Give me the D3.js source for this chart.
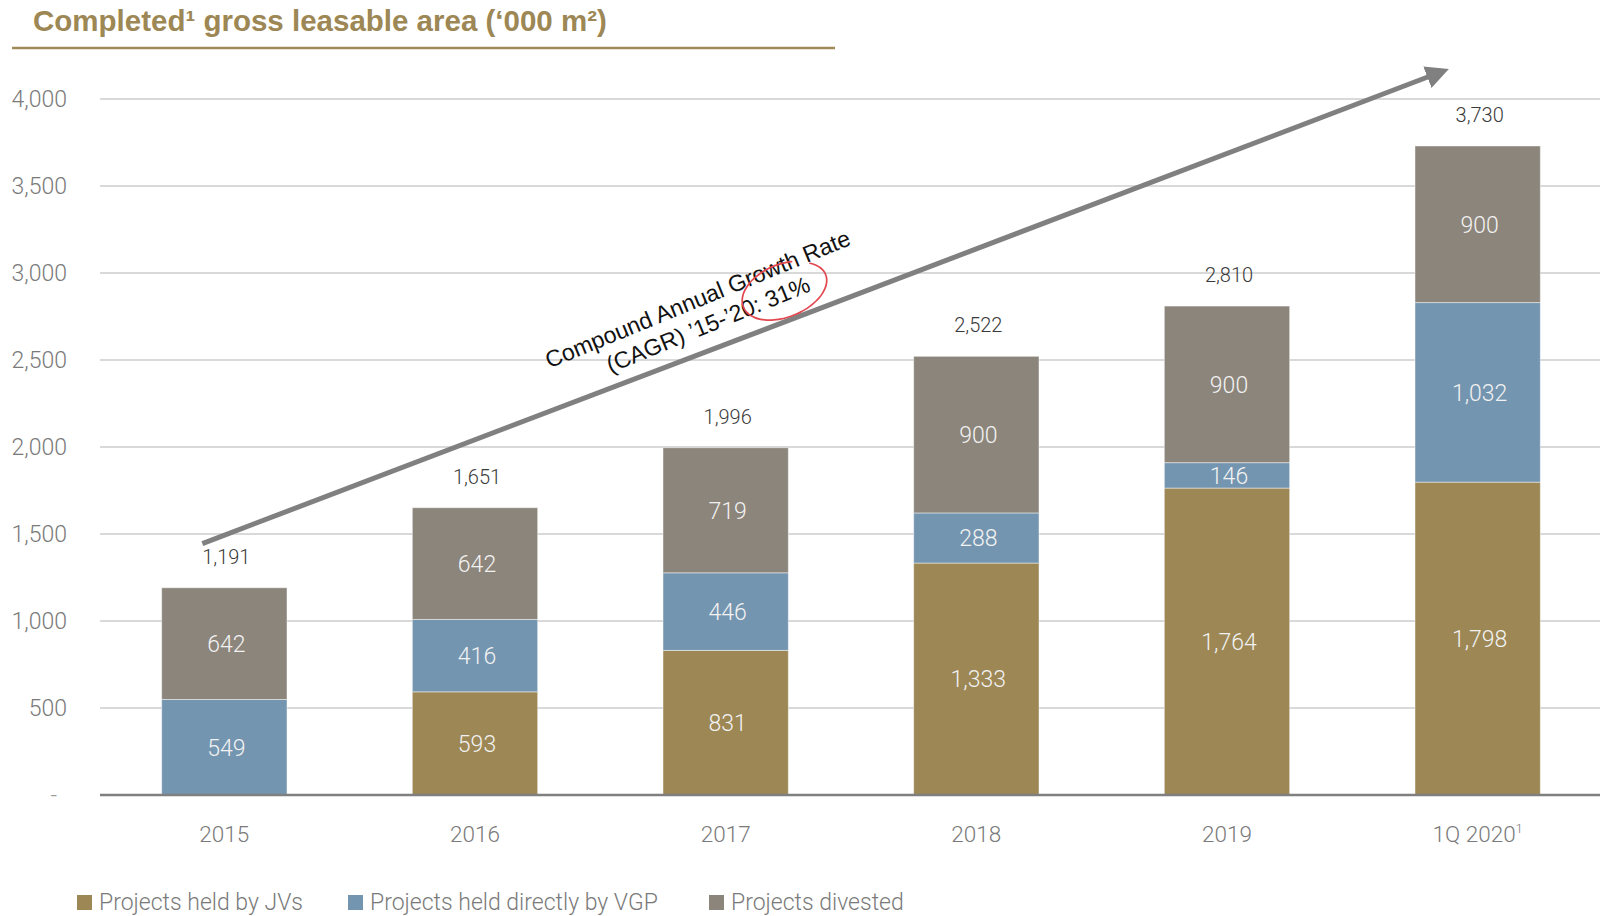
<!DOCTYPE html>
<html>
<head>
<meta charset="utf-8">
<script src="https://cdn.jsdelivr.net/npm/d3@7"></script>
<style>
  html, body { margin: 0; padding: 0; background: #fff; }
  svg { display: block; }
</style>
</head>
<body>
<svg id="chart" width="1600" height="916"></svg>
<script>
// Completed gross leasable area ('000 m²) by year and holding type
const years = ["2015", "2016", "2017", "2018", "2019", "1Q 2020"];
const heldByJVs = [0, 593, 831, 1333, 1764, 1798];
const heldDirectly = [549, 416, 446, 288, 146, 1032];
const divested = [642, 642, 719, 900, 900, 900];
const totals = [1191, 1651, 1996, 2522, 2810, 3730];
const seriesNames = ["Projects held by JVs", "Projects held directly by VGP", "Projects divested"];
const seriesColors = ["#9c8755", "#7495b0", "#8c857b"];
const yTicks = [0, 500, 1000, 1500, 2000, 2500, 3000, 3500, 4000];
const cagrLines = ["Compound Annual Growth Rate", "(CAGR) \u201915-\u201920: 31%"];

const svg = d3.select("#chart");
const fontLight = '"Helvetica Neue", Roboto, "Liberation Sans", sans-serif';

const x = d3.scaleBand().domain(years).range([99, 1603]).paddingInner(0.5).paddingOuter(0.25);
const y = d3.scaleLinear().domain([0, 4000]).range([795, 99]);

// Title and rule underneath
svg.append("text")
  .attr("x", 33).attr("y", 31)
  .attr("font-family", '"Liberation Sans", Arial, sans-serif')
  .attr("font-weight", "bold")
  .attr("font-size", 29.5)
  .attr("fill", "#9c8755")
  .text("Completed\u00b9 gross leasable area (\u2018000 m\u00b2)");
svg.append("line")
  .attr("x1", 12).attr("x2", 835).attr("y1", 48).attr("y2", 48)
  .attr("stroke", "#a08a57").attr("stroke-width", 2.5);

// Horizontal gridlines
svg.append("g").selectAll("line")
  .data(yTicks.filter(d => d > 0))
  .join("line")
  .attr("x1", 100).attr("x2", 1600)
  .attr("y1", d => y(d)).attr("y2", d => y(d))
  .attr("stroke", "#d9d9d9").attr("stroke-width", 2);

// Y axis labels
const yAxis = d3.axisLeft(y).tickValues(yTicks)
  .tickFormat(d => d === 0 ? "-" : d3.format(",")(d))
  .tickSize(0).tickPadding(0);
const gy = svg.append("g").attr("transform", "translate(67,0)").call(yAxis);
gy.select(".domain").remove();
gy.selectAll("text")
  .attr("font-family", fontLight).attr("font-weight", 300)
  .attr("font-size", 23).attr("fill", "#7a7a7a");
gy.selectAll(".tick").filter(d => d === 0).select("text")
  .attr("transform", "translate(-10,0)").attr("fill", "#9a9a9a");

// Stacked bars
const rows = years.map((yr, i) => ({ year: yr, jv: heldByJVs[i], direct: heldDirectly[i], div: divested[i] }));
const stack = d3.stack().keys(["jv", "direct", "div"]);
const layers = stack(rows);

const barG = svg.append("g");
layers.forEach((layer, k) => {
  barG.append("g").selectAll("rect")
    .data(layer.filter(d => d[1] - d[0] > 0))
    .join("rect")
    .attr("x", d => x(d.data.year))
    .attr("width", x.bandwidth())
    .attr("y", d => y(d[1]))
    .attr("height", d => y(d[0]) - y(d[1]))
    .attr("fill", seriesColors[k])
    .attr("stroke", "rgba(255,255,255,0.45)")
    .attr("stroke-width", 1);
  barG.append("g").selectAll("text")
    .data(layer.filter(d => d[1] - d[0] > 0))
    .join("text")
    .attr("x", d => x(d.data.year) + x.bandwidth() / 2 + 2)
    .attr("y", d => (y(d[0]) + y(d[1])) / 2)
    .attr("dy", "0.36em")
    .attr("text-anchor", "middle")
    .attr("font-family", fontLight).attr("font-weight", 300)
    .attr("font-size", 23).attr("fill", "#f2f2f2")
    .text(d => d3.format(",")(d[1] - d[0]));
});

// Baseline
svg.append("line")
  .attr("x1", 100).attr("x2", 1600).attr("y1", y(0)).attr("y2", y(0))
  .attr("stroke", "#7f7f7f").attr("stroke-width", 2.5);

// Totals above each stack
svg.append("g").selectAll("text")
  .data(years)
  .join("text")
  .attr("x", d => x(d) + x.bandwidth() / 2 + 2)
  .attr("y", (d, i) => y(totals[i]) - 24)
  .attr("text-anchor", "middle")
  .attr("font-family", fontLight).attr("font-weight", 300)
  .attr("font-size", 20).attr("fill", "#3a3a3a")
  .text((d, i) => d3.format(",")(totals[i]));

// X axis labels
const xl = svg.append("g").selectAll("text")
  .data(years)
  .join("text")
  .attr("x", d => x(d) + x.bandwidth() / 2)
  .attr("y", 842)
  .attr("text-anchor", "middle")
  .attr("font-family", fontLight).attr("font-weight", 300)
  .attr("font-size", 22.5).attr("fill", "#7a7a7a");
xl.append("tspan").text(d => d);
xl.filter(d => d === "1Q 2020").append("tspan")
  .attr("dy", -9).attr("font-size", 13).text("1");

// Growth arrow
const defs = svg.append("defs");
defs.append("marker")
  .attr("id", "arrowhead")
  .attr("viewBox", "0 0 10 10")
  .attr("refX", 2).attr("refY", 5)
  .attr("markerWidth", 4.6).attr("markerHeight", 4.6)
  .attr("markerUnits", "strokeWidth")
  .attr("orient", "auto")
  .append("path").attr("d", "M0,0 L10,5 L0,10 Z").attr("fill", "#808080");

const ax1 = x("2015") + x.bandwidth() / 2 - 22, ay1 = y(1445);
const ax2 = x("1Q 2020") + x.bandwidth() / 2 - 46, ay2 = y(4135);
svg.append("line")
  .attr("x1", ax1).attr("y1", ay1).attr("x2", ax2).attr("y2", ay2)
  .attr("stroke", "#808080").attr("stroke-width", 5)
  .attr("marker-end", "url(#arrowhead)");

// CAGR annotation, tilted a little more steeply than the arrow
const ang = -22.3;
const note = svg.append("g").attr("transform", `translate(703,312) rotate(${ang})`);
note.selectAll("text")
  .data(cagrLines)
  .join("text")
  .attr("x", 0)
  .attr("y", (d, i) => -6 + i * 27.5)
  .attr("text-anchor", "middle")
  .attr("font-family", '"Liberation Sans", Arial, sans-serif')
  .attr("font-size", 23.2).attr("fill", "#111")
  .text(d => d);

// Hand-drawn red ring around the rate
const ringPts = d3.range(0, 1.0001, 0.02).map(t => {
  const a = -1.15 - t * 2 * Math.PI * 0.93;
  const rx = 43 + 2 * t, ry = 27 - 1.5 * t;
  return [rx * Math.cos(a), ry * Math.sin(a)];
});
svg.append("g")
  .attr("transform", `translate(784,291) rotate(-21)`)
  .append("path")
  .attr("d", d3.line().curve(d3.curveCatmullRom)(ringPts))
  .attr("fill", "none")
  .attr("stroke", "#e2474f").attr("stroke-width", 1.7)
  .attr("stroke-linecap", "round");

// Legend
const legend = svg.append("g").selectAll("g")
  .data(seriesNames)
  .join("g")
  .attr("transform", (d, i) => `translate(${[77, 348, 709][i]},895)`);
legend.append("rect")
  .attr("width", 15).attr("height", 15)
  .attr("fill", (d, i) => seriesColors[i]);
legend.append("text")
  .attr("x", 22).attr("y", 7).attr("dy", "0.36em")
  .attr("font-family", fontLight).attr("font-weight", 300)
  .attr("font-size", 23).attr("fill", "#7a7a7a")
  .text(d => d);
</script>
</body>
</html>
